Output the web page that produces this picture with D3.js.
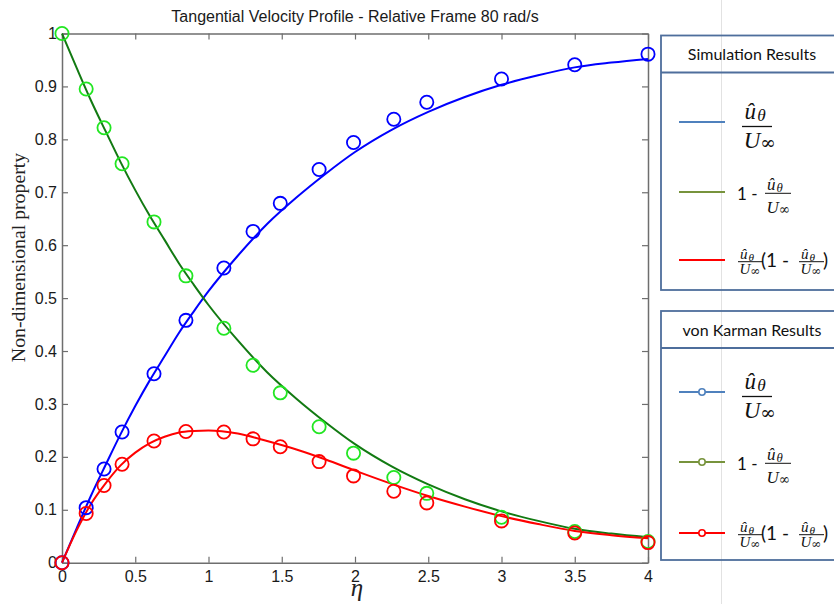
<!DOCTYPE html>
<html>
<head>
<meta charset="utf-8">
<script src="https://cdn.jsdelivr.net/npm/d3@7"></script>
<style>
  body { margin: 0; background: #fff; }
  svg { display: block; }
</style>
</head>
<body>
<div id="chart"></div>
<script>
// Simulation curves (solid lines), sampled along eta
const etaLine = [0, 0.1, 0.2, 0.3, 0.4, 0.5, 0.6, 0.7, 0.8, 0.9, 1.0, 1.2, 1.4, 1.6, 1.8, 2.0, 2.25, 2.5, 2.75, 3.0, 3.25, 3.5, 3.75, 4.0];
const simU = [0, 0.065, 0.128, 0.186, 0.243, 0.296, 0.345, 0.39, 0.435, 0.475, 0.513, 0.58, 0.64, 0.69, 0.735, 0.776, 0.818, 0.852, 0.88, 0.903, 0.921, 0.936, 0.945, 0.952];
const simOneMinus = [1, 0.935, 0.872, 0.814, 0.757, 0.704, 0.655, 0.61, 0.565, 0.525, 0.487, 0.42, 0.36, 0.31, 0.265, 0.224, 0.182, 0.148, 0.12, 0.097, 0.079, 0.064, 0.055, 0.048];
const simProduct = [0, 0.061, 0.112, 0.151, 0.184, 0.208, 0.226, 0.238, 0.246, 0.249, 0.25, 0.244, 0.23, 0.214, 0.195, 0.174, 0.149, 0.126, 0.106, 0.088, 0.073, 0.06, 0.052, 0.046];

// von Karman results (circles)
const etaVK = [0, 0.165, 0.287, 0.41, 0.628, 0.846, 1.105, 1.304, 1.49, 1.755, 1.99, 2.265, 2.49, 3.0, 3.5, 4.0];
const vkU = [0, 0.104, 0.177, 0.247, 0.357, 0.458, 0.557, 0.626, 0.679, 0.743, 0.794, 0.838, 0.870, 0.914, 0.941, 0.961];
const vkOneMinus = [1.0, 0.895, 0.822, 0.754, 0.644, 0.542, 0.443, 0.373, 0.321, 0.257, 0.207, 0.161, 0.131, 0.086, 0.059, 0.040];
const vkProduct = [0, 0.093, 0.146, 0.186, 0.230, 0.248, 0.247, 0.234, 0.219, 0.191, 0.164, 0.135, 0.113, 0.079, 0.056, 0.038];

const xTicks = [0, 0.5, 1, 1.5, 2, 2.5, 3, 3.5, 4];
const yTicks = [0, 0.1, 0.2, 0.3, 0.4, 0.5, 0.6, 0.7, 0.8, 0.9, 1];

const W = 834, H = 604;
const svg = d3.select("#chart").append("svg")
  .attr("width", W)
  .attr("height", H)
  .attr("viewBox", `0 0 ${W} ${H}`);

// faint page guide line behind everything
svg.append("line")
  .attr("x1", 721.5).attr("x2", 721.5)
  .attr("y1", 0).attr("y2", H)
  .attr("stroke", "#e2e2e2").attr("stroke-width", 1);

const pLeft = 62, pRight = 648, pTop = 33.5, pBottom = 562.7;

const x = d3.scaleLinear().domain([0, 4]).range([pLeft, pRight]);
const y = d3.scaleLinear().domain([0, 1]).range([pBottom, pTop]);

const axisColor = "#6e6e6e";
const tickFont = "'Liberation Sans', Arial, sans-serif";

// white plot background
svg.append("rect")
  .attr("x", pLeft).attr("y", pTop)
  .attr("width", pRight - pLeft).attr("height", pBottom - pTop)
  .attr("fill", "#fff");

function styleAxis(g, showText) {
  g.select(".domain").attr("stroke", axisColor).attr("stroke-width", 1.5);
  g.selectAll(".tick line").attr("stroke", axisColor).attr("stroke-width", 1.2);
  g.selectAll(".tick text")
    .attr("fill", "#1a1a1a")
    .style("font-family", tickFont)
    .style("font-size", "16px");
  if (!showText) g.selectAll(".tick text").remove();
}

svg.append("g")
  .attr("transform", `translate(0,${pBottom})`)
  .call(d3.axisBottom(x).tickValues(xTicks).tickFormat(d3.format("")).tickSizeInner(-6).tickSizeOuter(0).tickPadding(8))
  .call(g => styleAxis(g, true));

svg.append("g")
  .attr("transform", `translate(0,${pTop})`)
  .call(d3.axisTop(x).tickValues(xTicks).tickSizeInner(-6).tickSizeOuter(0))
  .call(g => styleAxis(g, false));

svg.append("g")
  .attr("transform", `translate(${pLeft},0)`)
  .call(d3.axisLeft(y).tickValues(yTicks).tickFormat(d3.format("")).tickSizeInner(-6).tickSizeOuter(0).tickPadding(5))
  .call(g => styleAxis(g, true));

svg.append("g")
  .attr("transform", `translate(${pRight},0)`)
  .call(d3.axisRight(y).tickValues(yTicks).tickSizeInner(-6).tickSizeOuter(0))
  .call(g => styleAxis(g, false));

// lines
const simSeries = [
  { vals: simU, color: "#0000ff" },
  { vals: simOneMinus, color: "#127a12" },
  { vals: simProduct, color: "#ff0000" }
];
const line = d3.line()
  .x(d => x(d[0]))
  .y(d => y(d[1]))
  .curve(d3.curveMonotoneX);

simSeries.forEach(s => {
  svg.append("path")
    .datum(etaLine.map((e, i) => [e, s.vals[i]]))
    .attr("d", line)
    .attr("fill", "none")
    .attr("stroke", s.color)
    .attr("stroke-width", 2);
});

// circles
const vkSeries = [
  { vals: vkU, color: "#0000ff" },
  { vals: vkOneMinus, color: "#22e622" },
  { vals: vkProduct, color: "#ff0000" }
];
vkSeries.forEach(s => {
  svg.append("g")
    .selectAll("circle")
    .data(etaVK.map((e, i) => [e, s.vals[i]]))
    .join("circle")
    .attr("cx", d => x(d[0]))
    .attr("cy", d => y(d[1]))
    .attr("r", 6.6)
    .attr("fill", "none")
    .attr("stroke", s.color)
    .attr("stroke-width", 1.8);
});

// title & axis labels
svg.append("text")
  .attr("x", (pLeft + pRight) / 2)
  .attr("y", 22)
  .attr("text-anchor", "middle")
  .style("font-family", tickFont)
  .style("font-size", "16px")
  .attr("fill", "#1a1a1a")
  .text("Tangential Velocity Profile - Relative Frame 80 rad/s");

svg.append("text")
  .attr("transform", "translate(25,257.5) rotate(-90)")
  .attr("text-anchor", "middle")
  .style("font-family", "'Liberation Serif', 'DejaVu Serif', serif")
  .style("font-size", "19.8px")
  .attr("fill", "#222")
  .text("Non-dimensional property");

svg.append("text")
  .attr("x", 357)
  .attr("y", 596)
  .attr("text-anchor", "middle")
  .style("font-family", "'Liberation Serif', 'DejaVu Serif', serif")
  .style("font-style", "italic")
  .style("font-size", "25px")
  .attr("fill", "#222")
  .text("η");

// ---- legends ----
const legBorder = "#4e6e9c";
const mathFont = "'Liberation Serif', 'DejaVu Serif', serif";
const sansLeg = "Lato, 'Open Sans', sans-serif";

// fraction u_theta / U_inf: x0 = left of bar, yb = bar y, s = font size, w = bar width
function frac(g, x0, yb, s, w, numDy, denDy) {
  g.append("text")
    .attr("x", x0 + w * 0.08).attr("y", yb - numDy)
    .style("font-family", mathFont).style("font-style", "italic")
    .style("font-size", s + "px").attr("fill", "#111")
    .text("û");
  g.append("text")
    .attr("x", x0 + w * 0.08 + s * 0.56).attr("y", yb - numDy + s * 0.12)
    .style("font-family", mathFont).style("font-style", "italic")
    .style("font-size", (s * 0.75) + "px").attr("fill", "#111")
    .text("θ");
  g.append("line")
    .attr("x1", x0).attr("x2", x0 + w)
    .attr("y1", yb).attr("y2", yb)
    .attr("stroke", "#111").attr("stroke-width", s > 18 ? 1.3 : 1);
  g.append("text")
    .attr("x", x0 + w * 0.06).attr("y", yb + denDy)
    .style("font-family", mathFont).style("font-style", "italic")
    .style("font-size", s + "px").attr("fill", "#111")
    .text("U");
  g.append("text")
    .attr("x", x0 + w * 0.06 + s * 0.72).attr("y", yb + denDy + s * 0.06)
    .style("font-family", "'DejaVu Serif', serif")
    .style("font-size", (s * 0.8) + "px").attr("fill", "#111")
    .text("∞");
}

function legendBox(y0, yEnd, title, entryY, withMarker) {
  const g = svg.append("g");
  g.append("rect")
    .attr("x", 661).attr("y", y0)
    .attr("width", 200).attr("height", yEnd - y0)
    .attr("fill", "none")
    .attr("stroke", legBorder).attr("stroke-width", 1.8);
  g.append("line")
    .attr("x1", 661).attr("x2", 861)
    .attr("y1", y0 + 37).attr("y2", y0 + 37)
    .attr("stroke", legBorder).attr("stroke-width", 1.8);
  g.append("text")
    .attr("x", 752).attr("y", y0 + 24.5)
    .attr("text-anchor", "middle")
    .style("font-family", sansLeg).style("font-size", "16px")
    .attr("fill", "#111")
    .text(title);

  const cols = ["#4f81bd", "#77933c", "#ff0000"];
  entryY.forEach((ey, i) => {
    g.append("line")
      .attr("x1", 679).attr("x2", 725)
      .attr("y1", ey).attr("y2", ey)
      .attr("stroke", cols[i]).attr("stroke-width", 2.2);
    if (withMarker) {
      g.append("circle")
        .attr("cx", 702).attr("cy", ey).attr("r", 3.2)
        .attr("fill", "#fff").attr("stroke", cols[i]).attr("stroke-width", 1.6);
    }
  });

  // entry 1: big fraction
  frac(g, 742, entryY[0] + 4.5, 23, 30, 8, 21);
  // entry 2: 1 - frac
  g.append("text")
    .attr("x", 737).attr("y", entryY[1] + 8)
    .style("font-family", sansLeg).style("font-size", "17px").attr("fill", "#111")
    .text("1 -");
  frac(g, 765, entryY[1] + 1.3, 17, 26, 3.5, 19.5);
  // entry 3: frac (1 - frac)
  frac(g, 738, entryY[2] + 1.7, 15, 25, 3, 12.5);
  g.append("text")
    .attr("x", 761).attr("y", entryY[2] + 7)
    .style("font-family", sansLeg).style("font-size", "19px").attr("fill", "#111")
    .text("(1 -");
  frac(g, 799, entryY[2] + 1.7, 15, 25, 3, 12.5);
  g.append("text")
    .attr("x", 823).attr("y", entryY[2] + 7)
    .style("font-family", sansLeg).style("font-size", "19px").attr("fill", "#111")
    .text(")");
}

legendBox(35.5, 290, "Simulation Results", [122, 192, 260], false);
legendBox(311, 560, "von Karman Results", [392, 462, 533], true);
</script>
</body>
</html>
